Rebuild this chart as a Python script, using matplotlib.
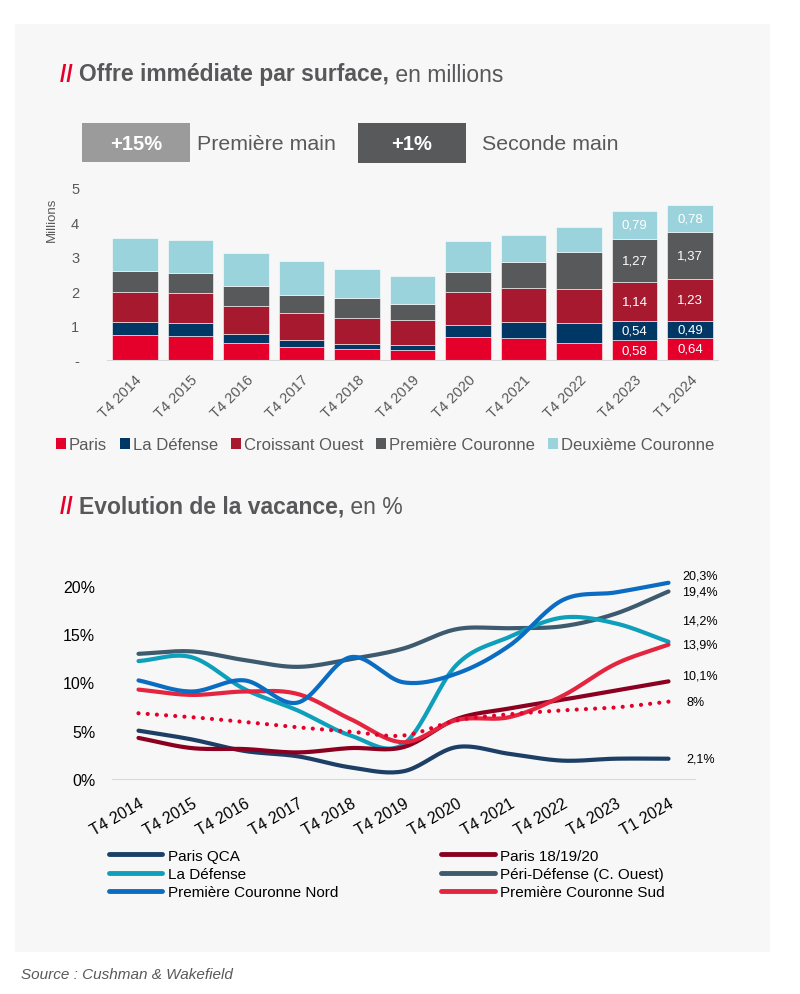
import numpy as np
import matplotlib
matplotlib.use("Agg")
import matplotlib.pyplot as plt
from matplotlib.patches import Rectangle
from matplotlib.lines import Line2D

plt.rcParams['font.family'] = ['Liberation Sans', 'DejaVu Sans']

# ---------------- data ----------------
periods = ["T4 2014", "T4 2015", "T4 2016", "T4 2017", "T4 2018", "T4 2019",
           "T4 2020", "T4 2021", "T4 2022", "T4 2023", "T1 2024"]

# Offre immédiate (millions m²)
paris = [0.73, 0.70, 0.49, 0.38, 0.32, 0.29, 0.67, 0.64, 0.49, 0.58, 0.64]
la_defense = [0.37, 0.38, 0.27, 0.20, 0.15, 0.15, 0.35, 0.46, 0.59, 0.54, 0.49]
croissant_ouest = [0.88, 0.87, 0.81, 0.79, 0.75, 0.72, 0.96, 0.99, 0.98, 1.14, 1.23]
premiere_couronne = [0.61, 0.58, 0.58, 0.52, 0.58, 0.47, 0.58, 0.76, 1.08, 1.27, 1.37]
deuxieme_couronne = [0.96, 0.96, 0.96, 0.99, 0.85, 0.81, 0.90, 0.78, 0.73, 0.79, 0.78]
bar_series_names = ["Paris", "La Défense", "Croissant Ouest", "Première Couronne", "Deuxième Couronne"]
labelled_bars = [9, 10]

# Vacance (%)
paris_qca = [5.0, 4.1, 2.9, 2.35, 1.2, 0.8, 3.3, 2.6, 1.9, 2.1, 2.1]
paris_181920 = [4.25, 3.2, 3.1, 2.75, 3.2, 3.3, 6.2, 7.3, 8.2, 9.15, 10.1]
vac_la_defense = [12.2, 12.6, 9.3, 7.1, 4.5, 3.6, 11.8, 14.7, 16.7, 16.1, 14.2]
peri_defense = [12.95, 13.2, 12.3, 11.6, 12.4, 13.5, 15.5, 15.6, 15.8, 17.1, 19.4]
pc_nord = [10.2, 9.05, 10.2, 7.9, 12.6, 10.0, 10.9, 13.8, 18.5, 19.3, 20.3]
pc_sud = [9.25, 8.7, 9.05, 8.8, 6.2, 3.8, 6.1, 6.4, 8.6, 11.9, 13.9]
idf_total = [6.8, 6.4, 5.9, 5.35, 4.9, 4.5, 6.05, 6.7, 7.1, 7.4, 8.0]

end_labels = ["20,3%", "19,4%", "14,2%", "13,9%", "10,1%", "8%", "2,1%"]

# ---------------- helpers ----------------
W, H = 800, 995
fig = plt.figure(figsize=(W / 100, H / 100), dpi=100)
fig.patch.set_facecolor("white")


def px_axes(left, top, right, bottom):
    return fig.add_axes([left / W, 1 - bottom / H, (right - left) / W, (bottom - top) / H])


def fx(x):
    return x / W


def fy(y):
    return 1 - y / H


renderer = fig.canvas.get_renderer()


def chain(parts, x, y, size):
    cur = x
    for txt, color, weight in parts:
        t = fig.text(fx(cur), fy(y), txt, color=color, fontsize=size, fontweight=weight,
                     va="center", ha="left")
        bb = t.get_window_extent(renderer=renderer)
        cur += bb.width
    return cur


def smooth(xs, ys, n=20):
    xs = np.asarray(xs, float)
    ys = np.asarray(ys, float)
    px = np.concatenate([[2 * xs[0] - xs[1]], xs, [2 * xs[-1] - xs[-2]]])
    py = np.concatenate([[2 * ys[0] - ys[1]], ys, [2 * ys[-1] - ys[-2]]])
    outx, outy = [], []
    t = np.linspace(0, 1, n, endpoint=False)
    for i in range(1, len(px) - 2):
        for arr, out in ((px, outx), (py, outy)):
            p0, p1, p2, p3 = arr[i - 1], arr[i], arr[i + 1], arr[i + 2]
            out.extend(0.5 * ((2 * p1) + (-p0 + p2) * t + (2 * p0 - 5 * p1 + 4 * p2 - p3) * t ** 2
                              + (-p0 + 3 * p1 - 3 * p2 + p3) * t ** 3))
    outx.append(xs[-1])
    outy.append(ys[-1])
    return np.array(outx), np.array(outy)


# background panel
fig.patches.append(Rectangle((fx(15), fy(953)), (770 - 15) / W, (953 - 25) / H,
                             transform=fig.transFigure, facecolor="#f7f7f7", edgecolor="none", zorder=-5))

DARK = "#58585a"
RED = "#e4002b"
GREY_TXT = "#595959"

# titles
chain([("// ", RED, "bold"), ("Offre immédiate par surface,", DARK, "bold"),
       (" en millions", DARK, "normal")], 60, 75, 16.5)
chain([("// ", RED, "bold"), ("Evolution de la vacance,", DARK, "bold"),
       (" en %", DARK, "normal")], 60, 507, 16.5)

# header boxes
fig.patches.append(Rectangle((fx(82), fy(163)), (190 - 82) / W, (163 - 124) / H,
                             transform=fig.transFigure, facecolor="#9b9b9b", edgecolor="none", zorder=-4))
fig.text(fx(136), fy(144), "+15%", color="white", fontsize=14.5, fontweight="bold", ha="center", va="center")
fig.text(fx(197), fy(144), "Première main", color=GREY_TXT, fontsize=15.4, ha="left", va="center")
fig.patches.append(Rectangle((fx(358), fy(164)), (466 - 358) / W, (164 - 124) / H,
                             transform=fig.transFigure, facecolor="#58595b", edgecolor="none", zorder=-4))
fig.text(fx(412), fy(144), "+1%", color="white", fontsize=14.5, fontweight="bold", ha="center", va="center")
fig.text(fx(482), fy(144), "Seconde main", color=GREY_TXT, fontsize=15.4, ha="left", va="center")

# ---------------- bar chart ----------------
axb = px_axes(107, 189, 718, 361)
axb.set_facecolor("none")
x = np.arange(len(periods))
bar_colors = ["#e4002b", "#003764", "#a6192e", "#58595b", "#9bd3dd"]
series = [paris, la_defense, croissant_ouest, premiere_couronne, deuxieme_couronne]
bottom = np.zeros(len(periods))
handles = []
for vals, col, name in zip(series, bar_colors, bar_series_names):
    axb.bar(x, vals, bottom=bottom, width=0.82, color=col, edgecolor="white",
            linewidth=0.4, label=name)
    for i in labelled_bars:
        axb.text(x[i], bottom[i] + vals[i] / 2, f"{vals[i]:.2f}".replace(".", ","),
                 color="white", fontsize=9.5, ha="center", va="center")
    bottom += np.array(vals)
    handles.append(Rectangle((0, 0), 1, 1, facecolor=col, edgecolor="none"))

axb.set_xlim(-0.5, len(periods) - 0.5)
axb.set_ylim(0, 5)
axb.set_yticks([0, 1, 2, 3, 4, 5])
axb.set_yticklabels(["-", "1", "2", "3", "4", "5"])
axb.set_xticks(x)
axb.set_xticklabels(periods, rotation=45, ha="right", rotation_mode="anchor")
axb.tick_params(axis="both", length=0, labelsize=10.5, labelcolor=GREY_TXT)
axb.tick_params(axis="y", pad=20)
axb.tick_params(axis="x", pad=9)
for s in ["top", "right", "left"]:
    axb.spines[s].set_visible(False)
axb.spines["bottom"].set_color("#d9d9d9")
fig.text(fx(52), fy(220), "Millions", rotation=90, color=GREY_TXT, fontsize=9.5, ha="center", va="center")

fig.legend(handles, bar_series_names, loc="center", bbox_to_anchor=(fx(385), fy(446)),
           ncol=5, frameon=False, fontsize=12, handlelength=0.6, handleheight=0.6,
           handletextpad=0.2, columnspacing=0.75, labelcolor=GREY_TXT)

# ---------------- line chart ----------------
axl = px_axes(112, 577, 695, 780)
axl.set_facecolor("none")
line_specs = [
    (paris_qca, "#1d3f66", "Paris QCA"),
    (vac_la_defense, "#0e9fba", "La Défense"),
    (pc_nord, "#0a6dc2", "Première Couronne Nord"),
    (paris_181920, "#8b0021", "Paris 18/19/20"),
    (peri_defense, "#3d5a6e", "Péri-Défense (C. Ouest)"),
    (pc_sud, "#e4253f", "Première Couronne Sud"),
]
draw_order = [4, 1, 0, 3, 5, 2]
for k in draw_order:
    vals, col, name = line_specs[k]
    sx, sy = smooth(x, vals)
    axl.plot(sx, sy, color=col, lw=3, solid_capstyle="round", label=name, zorder=3)
sx, sy = smooth(x, idf_total)
axl.plot(sx, sy, color=RED, lw=3, linestyle=(0, (0.01, 2.2)), dash_capstyle="round", zorder=3)

axl.set_xlim(-0.5, len(periods) - 0.5)
axl.set_ylim(0, 21)
axl.set_yticks([0, 5, 10, 15, 20])
axl.set_yticklabels(["0%", "5%", "10%", "15%", "20%"])
axl.set_xticks(x)
axl.set_xticklabels(periods, rotation=30, ha="right", rotation_mode="anchor")
axl.tick_params(axis="both", length=0, labelsize=11.5, labelcolor="black")
axl.tick_params(axis="y", pad=12)
axl.tick_params(axis="x", pad=12)
for s in ["top", "right", "left"]:
    axl.spines[s].set_visible(False)
axl.spines["bottom"].set_color("#d9d9d9")

# end labels
end_vals = [pc_nord[-1], peri_defense[-1], vac_la_defense[-1], pc_sud[-1], paris_181920[-1],
            idf_total[-1], paris_qca[-1]]
end_offsets = [5, 0, 15, 0, 4, 0, 0]  # points
end_x_offsets = [10, 10, 10, 10, 10, 13, 13]
for lab, v, dy, dx in zip(end_labels, end_vals, end_offsets, end_x_offsets):
    axl.annotate(lab, (x[-1], v), xytext=(dx, dy), textcoords="offset points",
                 fontsize=9, color="black", ha="left", va="center", annotation_clip=False)

leg_handles = [Line2D([], [], color=line_specs[k][1], lw=3.5, solid_capstyle="round") for k in range(6)]
fig.legend(leg_handles, [s[2] for s in line_specs], loc="upper left",
           bbox_to_anchor=(fx(95), fy(836)), ncol=2, frameon=False, fontsize=11,
           handlelength=3.5, handletextpad=0.35, columnspacing=6.75, labelspacing=0.28,
           labelcolor="black")

fig.text(fx(21), fy(975), "Source : Cushman & Wakefield", fontsize=11, style="italic",
         color=GREY_TXT, ha="left", va="center")

fig.savefig("out.png", dpi=100, facecolor="white")
